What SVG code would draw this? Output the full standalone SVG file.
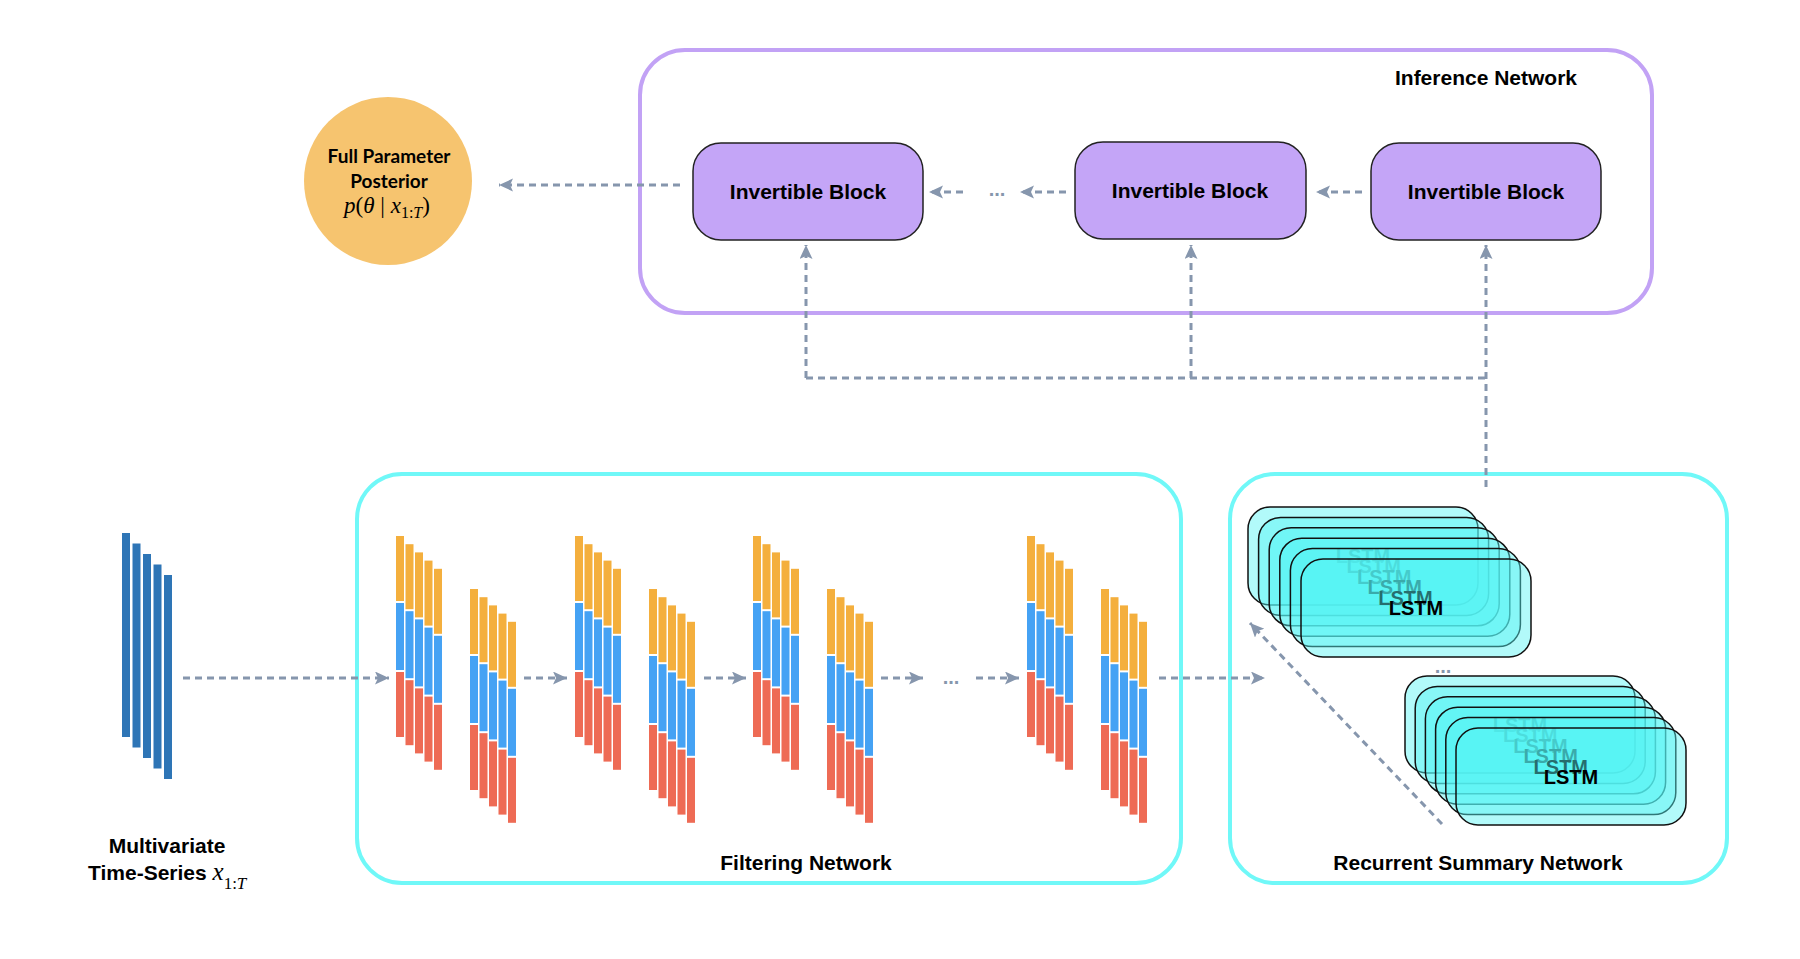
<svg xmlns="http://www.w3.org/2000/svg" width="1800" height="959" viewBox="0 0 1800 959">
<style>
  .lbl { font-family: "Liberation Sans", Arial, sans-serif; font-weight: bold; font-size: 21px; fill: #000; }
  .circ { font-family: "Lato", "Liberation Sans", sans-serif; font-weight: bold; font-size: 19px; fill: #000; }
  .math { font-family: "Liberation Serif", "Times New Roman", serif; fill: #000; }
  .conn { fill: none; stroke: #8696AD; stroke-width: 3; stroke-dasharray: 7 5; }
  .dots { font-family: "Liberation Sans", Arial, sans-serif; font-weight: bold; font-size: 20px; fill: #8696AD; }
  .group-box { fill: none; stroke-width: 4; }
  .block { fill: #C4A5F7; stroke: #222; stroke-width: 1.5; }
  .lstm rect { fill: #55F5F5; fill-opacity: 0.45; stroke: #111; stroke-width: 1.5; }
  .lstm text { font-family: "Liberation Sans", Arial, sans-serif; font-weight: bold; font-size: 20px; fill: #000; text-anchor: middle; }
  .o { fill: #F4AF3D; } .b { fill: #45A2F4; } .r { fill: #EE6B55; }
  .ts { fill: #2E75B6; }
</style>
<defs>
  <marker id="arr" markerUnits="userSpaceOnUse" markerWidth="16" markerHeight="14" refX="14" refY="6.5" orient="auto" viewBox="0 0 16 14">
    <path d="M0,0 L14,6.5 L0,13 L3,6.5 Z" fill="#8696AD"/>
  </marker>
  <g id="bar">
    <rect class="o" x="0" y="0" width="8" height="65"/>
    <rect class="b" x="0" y="67" width="8" height="67"/>
    <rect class="r" x="0" y="136" width="8" height="65"/>
  </g>
  <g id="grp">
    <use href="#bar" x="0" y="0"/>
    <use href="#bar" x="9.5" y="8.2"/>
    <use href="#bar" x="19" y="16.4"/>
    <use href="#bar" x="28.5" y="24.6"/>
    <use href="#bar" x="38" y="32.8"/>
  </g>
  <g id="pair">
    <use href="#grp" x="0" y="0"/>
    <use href="#grp" x="74" y="53"/>
  </g>
</defs>

<rect width="1800" height="959" fill="#fff"/>

<!-- group containers -->
<g id="inference-network">
  <rect class="group-box" x="640" y="50" width="1012" height="263" rx="45" stroke="#C2A2F5"/>
  <text class="lbl" x="1486" y="85" text-anchor="middle">Inference Network</text>
</g>
<g id="filtering-network">
  <rect class="group-box" x="357" y="474" width="824" height="409" rx="45" stroke="#70F8F8"/>
  <text class="lbl" x="806" y="870" text-anchor="middle">Filtering Network</text>
</g>
<g id="summary-network">
  <rect class="group-box" x="1230" y="474" width="497" height="409" rx="45" stroke="#70F8F8"/>
  <text class="lbl" x="1478" y="870" text-anchor="middle">Recurrent Summary Network</text>
</g>

<!-- posterior -->
<g id="posterior">
  <circle cx="388" cy="181" r="84" fill="#F6C46F"/>
  <text class="circ" x="389" y="163" text-anchor="middle">Full Parameter</text>
  <text class="circ" x="389" y="188" text-anchor="middle">Posterior</text>
  <text class="math" x="387" y="213" text-anchor="middle" font-size="23"><tspan font-style="italic">p</tspan>(<tspan font-style="italic">θ</tspan> | <tspan font-style="italic">x</tspan><tspan font-size="16" dy="5">1:</tspan><tspan font-size="16" font-style="italic">T</tspan><tspan dy="-5">)</tspan></text>
</g>

<!-- invertible blocks -->
<g id="block1">
  <rect class="block" x="693" y="143" width="230" height="97" rx="28"/>
  <text class="lbl" x="808" y="199" text-anchor="middle">Invertible Block</text>
</g>
<g id="block2">
  <rect class="block" x="1075" y="142" width="231" height="97" rx="28"/>
  <text class="lbl" x="1190" y="198" text-anchor="middle">Invertible Block</text>
</g>
<g id="block3">
  <rect class="block" x="1371" y="143" width="230" height="97" rx="28"/>
  <text class="lbl" x="1486" y="199" text-anchor="middle">Invertible Block</text>
</g>

<!-- input time series -->
<g id="time-series">
  <rect class="ts" x="122" y="533" width="8" height="204"/>
  <rect class="ts" x="132.5" y="543.5" width="8" height="204"/>
  <rect class="ts" x="143" y="554" width="8" height="204"/>
  <rect class="ts" x="153.5" y="564.5" width="8" height="204"/>
  <rect class="ts" x="164" y="575" width="8" height="204"/>
  <text class="lbl" x="167" y="853" text-anchor="middle">Multivariate</text>
  <text class="lbl" x="88" y="880">Time-Series <tspan class="math" font-weight="normal" font-style="italic" font-size="25">x</tspan><tspan class="math" font-weight="normal" font-size="17" dy="9">1:</tspan><tspan class="math" font-weight="normal" font-style="italic" font-size="17">T</tspan></text>
</g>

<!-- filter layers -->
<g id="filter1"><use href="#pair" x="396" y="536"/></g>
<g id="filter2"><use href="#pair" x="575" y="536"/></g>
<g id="filter3"><use href="#pair" x="753" y="536"/></g>
<g id="filter4"><use href="#pair" x="1027" y="536"/></g>

<!-- LSTM stacks -->
<g id="lstm-stack1" class="lstm">
  <rect x="1248" y="507" width="230" height="98" rx="22"/><text x="1363" y="563">LSTM</text>
  <rect x="1258.6" y="517.4" width="230" height="98" rx="22"/><text x="1373.6" y="573.4">LSTM</text>
  <rect x="1269.2" y="527.8" width="230" height="98" rx="22"/><text x="1384.2" y="583.8">LSTM</text>
  <rect x="1279.8" y="538.2" width="230" height="98" rx="22"/><text x="1394.8" y="594.2">LSTM</text>
  <rect x="1290.4" y="548.6" width="230" height="98" rx="22"/><text x="1405.4" y="604.6">LSTM</text>
  <rect x="1301" y="559" width="230" height="98" rx="22"/><text x="1416" y="615">LSTM</text>
</g>
<g id="lstm-stack2" class="lstm">
  <rect x="1405" y="676" width="230" height="97" rx="22"/><text x="1520" y="732">LSTM</text>
  <rect x="1415.2" y="686.4" width="230" height="97" rx="22"/><text x="1530.2" y="742.4">LSTM</text>
  <rect x="1425.4" y="696.8" width="230" height="97" rx="22"/><text x="1540.4" y="752.8">LSTM</text>
  <rect x="1435.6" y="707.2" width="230" height="97" rx="22"/><text x="1550.6" y="763.2">LSTM</text>
  <rect x="1445.8" y="717.6" width="230" height="97" rx="22"/><text x="1560.8" y="773.6">LSTM</text>
  <rect x="1456" y="728" width="230" height="97" rx="22"/><text x="1571" y="784">LSTM</text>
</g>

<!-- connectors -->
<g id="connectors">
  <path class="conn" d="M680,185 L499,185" marker-end="url(#arr)"/>
  <path class="conn" d="M963,192 L929,192" marker-end="url(#arr)"/>
  <path class="conn" d="M1066,192 L1020,192" marker-end="url(#arr)"/>
  <path class="conn" d="M1362,192 L1316,192" marker-end="url(#arr)"/>
  <path class="conn" d="M806,378 L806,245" marker-end="url(#arr)"/>
  <path class="conn" d="M1191,378 L1191,245" marker-end="url(#arr)"/>
  <path class="conn" d="M1486,487 L1486,245" marker-end="url(#arr)"/>
  <path class="conn" d="M806,378 L1486,378"/>
  <path class="conn" d="M183,678 L389,678" marker-end="url(#arr)"/>
  <path class="conn" d="M524,678 L567,678" marker-end="url(#arr)"/>
  <path class="conn" d="M704,678 L746,678" marker-end="url(#arr)"/>
  <path class="conn" d="M881,678 L923,678" marker-end="url(#arr)"/>
  <path class="conn" d="M976,678 L1019,678" marker-end="url(#arr)"/>
  <path class="conn" d="M1159,678 L1265,678" marker-end="url(#arr)"/>
  <path class="conn" d="M1442,824 L1250,623" marker-end="url(#arr)"/>
  <text class="dots" x="997" y="196" text-anchor="middle">...</text>
  <text class="dots" x="951" y="684" text-anchor="middle">...</text>
  <text class="dots" x="1443" y="673" text-anchor="middle">...</text>
</g>
</svg>
